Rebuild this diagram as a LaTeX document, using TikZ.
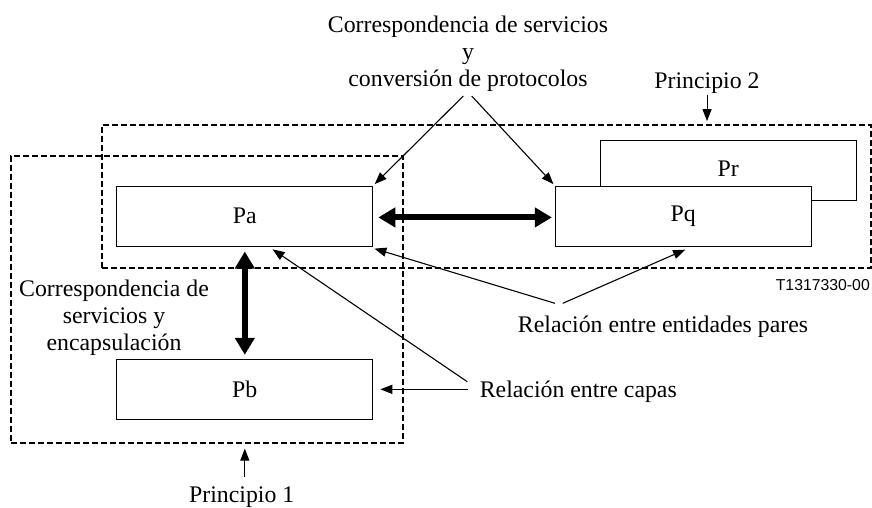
\documentclass[tikz,border=0pt]{standalone}
\usepackage{fontspec}
\setmainfont{Liberation Serif}
\newfontfamily\codefont{Liberation Sans}
\usetikzlibrary{arrows.meta}

\begin{document}
\begin{tikzpicture}[scale=0.3515]
\tikzstyle{every node}+=[inner sep=0pt]
\tikzstyle{lbl}=[font=\fontsize{23.8}{27}\selectfont, align=center]
\tikzstyle{procbox}=[lbl, draw=black, line width=1pt, fill=white, minimum width=256pt, minimum height=60pt]
\tikzstyle{groupbox}=[draw=black, line width=1.8pt, dash pattern=on 6pt off 3pt]
\tikzstyle{thinarrow}=[-{Triangle[length=12pt,width=9pt]}, line width=1.1pt]
\tikzstyle{thickarrow}=[{Triangle[length=17pt,width=19pt]}-{Triangle[length=17pt,width=19pt]}, line width=6pt]
\useasboundingbox (0,0) rectangle (87.2,-50.7);
\node [groupbox, minimum width=769pt, minimum height=143.3pt] (grp2) at (48.62,-19.665) {};
\node [groupbox, minimum width=392pt, minimum height=287pt] (grp1) at (20.7,-29.92) {};
\node [procbox] (pr) at (72.83,-17.09) {\raisebox{5pt}{Pr}};
\node [procbox] (pq) at (68.33,-21.6) {Pq};
\node [procbox] (pa) at (24.48,-21.6) {Pa};
\node [procbox] (pb) at (24.48,-38.93) {Pb};
\node [lbl] (toplbl) at (46.8,-5.4) {Correspondencia de servicios\\y\\conversi\'on de protocolos};
\node [lbl, anchor=base] (prin2) at (70.7,-8.85) {Principio 2};
\node [lbl, anchor=base] (prin1) at (24.17,-50.27) {Principio 1};
\node [lbl] (encap) at (11.4,-31.82) {Correspondencia de\\servicios y\\encapsulaci\'on};
\node [lbl, anchor=base] (capas) at (57.83,-39.73) {Relaci\'on entre capas};
\node [lbl, anchor=base] (entid) at (66.3,-33.27) {Relaci\'on entre entidades pares};
\node [font=\codefont\fontsize{15.8}{18}\selectfont, anchor=base east] (tcode) at (87.0,-29.0) {T1317330-00};
\coordinate (topa) at (46.33,-9.6);
\coordinate (topb) at (47.17,-9.6);
\coordinate (enta) at (55.5,-30.33);
\coordinate (entb) at (56.27,-30.33);
\coordinate (capa) at (46.73,-38.17);
\coordinate (capb) at (46.83,-38.93);
\draw [thinarrow] (topa) -- ([xshift=4pt,yshift=4pt]pa.north east);
\draw [thinarrow] (topb) -- ([xshift=-4pt,yshift=4pt]pq.north west);
\draw [thinarrow, shorten <=1.3pt, shorten >=3pt] (prin2.south) -- (prin2 |- grp2.north);
\draw [thinarrow, shorten <=10pt, shorten >=5pt] (prin1.north -| pb) -- (grp1.south -| pb);
\draw [thickarrow, shorten <=5pt, shorten >=3pt] ([yshift=-4pt]pa.east) -- ([yshift=-4pt]pq.west);
\draw [thickarrow, shorten <=5pt, shorten >=4pt] (pa.south) -- (pb.north);
\draw [thinarrow] (enta) -- ([xshift=3pt,yshift=-6pt]pa.south east);
\draw [thinarrow] (entb) -- ([xshift=5pt,yshift=-9pt]pq.south);
\draw [thinarrow] (capa) -- ([xshift=79pt,yshift=-8pt]pa.south);
\draw [thinarrow, shorten >=7pt] (capb) -- (pb.east);
\end{tikzpicture}
\end{document}
